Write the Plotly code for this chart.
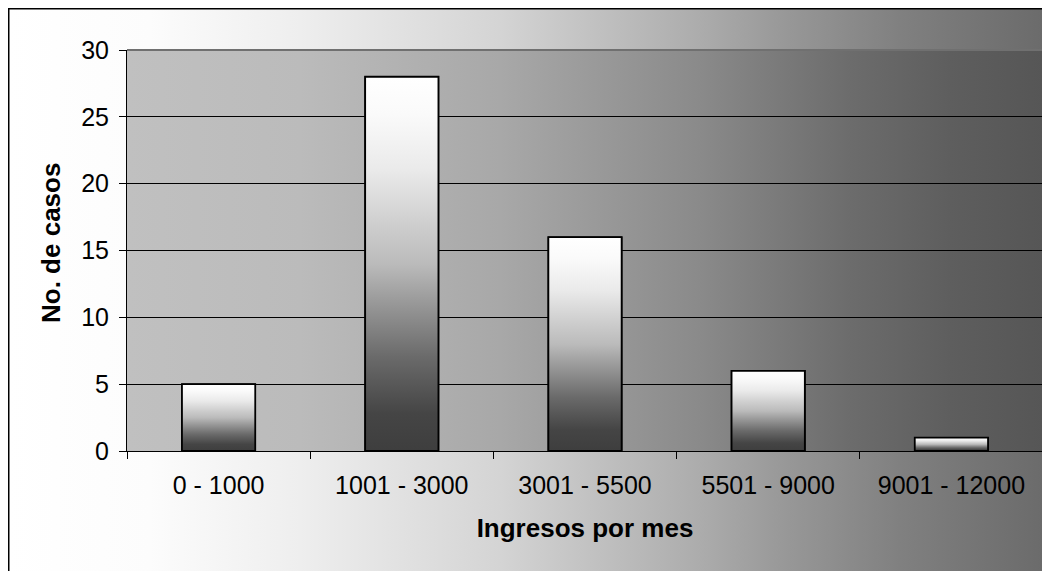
import base64
import plotly.graph_objects as go

# ---- data ----
categories = ["0 - 1000", "1001 - 3000", "3001 - 5500", "5501 - 9000", "9001 - 12000"]
casos = [5, 28, 16, 6, 1]
y_ticks = [0, 5, 10, 15, 20, 25, 30]

# page body has an 8px margin, so the figure starts at (8, 8) of the window
W, H = 1042, 563
ML, MR, MT, MB = 119, 7, 42, 120
PW, PH = W - ML - MR, H - MT - MB


def px_x(px):
    return (px - ML) / PW


def px_y(py):
    return 1 - (py - MT) / PH


def grad_svg(stops):
    st = "".join(
        f'<stop offset="{o:.4f}" stop-color="rgb({g},{g},{g})"/>' for o, g in stops
    )
    svg = (
        '<svg xmlns="http://www.w3.org/2000/svg" width="200" height="200" '
        'viewBox="0 0 200 200" preserveAspectRatio="none">'
        f'<defs><linearGradient id="g" x1="0" y1="0" x2="1" y2="0">{st}</linearGradient></defs>'
        '<rect x="0" y="0" width="200" height="200" fill="url(#g)"/></svg>'
    )
    return "data:image/svg+xml;base64," + base64.b64encode(svg.encode()).decode()


# paper gradient (window pixel x -> gray)
paper_px = [(8, 255), (150, 252), (300, 238), (380, 228), (500, 212), (600, 192),
            (700, 172), (780, 153), (900, 128), (1050, 106)]
paper_stops = [((p - 8) / (1050 - 8), g) for p, g in paper_px]
plot_px = [(127, 192), (300, 187), (500, 168), (700, 138), (850, 108), (950, 94), (1043, 86)]
plot_stops = [((p - 127) / (1043 - 127), g) for p, g in plot_px]

bar_scale = [[0, "#3e3e3e"], [0.1, "#454545"], [0.25, "#6a6a6a"], [0.4, "#9a9a9a"],
             [0.5, "#bbbbbb"], [0.6, "#cdcdcd"], [0.75, "#eaeaea"], [0.9, "#fafafa"],
             [1, "#ffffff"]]

BW = 0.4

fig = go.Figure()
fig.add_trace(go.Bar(
    x=categories, y=casos, width=BW,
    marker=dict(color="#b0b0b0", line=dict(color="black", width=1.5)),
    xaxis="x", yaxis="y", showlegend=False, hoverinfo="skip",
))
for i, v in enumerate(casos):
    fig.add_trace(go.Scatter(
        x=[i - BW / 2, i - BW / 2, i + BW / 2, i + BW / 2, i - BW / 2],
        y=[0, v, v, 0, 0],
        mode="lines", fill="toself",
        fillgradient=dict(type="vertical", colorscale=bar_scale, start=0, stop=v),
        line=dict(color="black", width=1.8),
        xaxis="x2", yaxis="y", showlegend=False, hoverinfo="skip",
    ))

font_family = "Liberation Sans, Arial, sans-serif"

fig.update_layout(
    width=W, height=H,
    margin=dict(l=ML, r=MR, t=MT, b=MB, pad=0),
    paper_bgcolor="white",
    plot_bgcolor="rgba(0,0,0,0)",
    font=dict(family=font_family, size=25, color="black"),
    showlegend=False,
    xaxis=dict(
        type="category", range=[-0.5, 4.5], tickson="boundaries",
        ticks="outside", ticklen=7, tickcolor="black", tickwidth=1,
        showline=True, linecolor="black", linewidth=1, showgrid=False,
        tickfont=dict(size=25), ticklabelstandoff=12, automargin=False, fixedrange=True,
        title=dict(text="<b>Ingresos por mes</b>", font=dict(size=26), standoff=20),
    ),
    xaxis2=dict(
        overlaying="x", anchor="y", range=[-0.5, 4.5], visible=False, fixedrange=True,
    ),
    yaxis=dict(
        range=[0, 30], tickvals=y_ticks, ticks="outside", ticklen=7,
        tickcolor="black", tickwidth=1, showline=True, linecolor="black", linewidth=1,
        showgrid=True, gridcolor="black", gridwidth=1, zeroline=False,
        tickfont=dict(size=25), ticklabelstandoff=5, automargin=False, fixedrange=True,
    ),
    annotations=[
        dict(text="<b>No. de casos</b>", textangle=-90, xref="paper", yref="paper",
             x=px_x(43), y=px_y(317), xanchor="center", yanchor="bottom",
             showarrow=False, font=dict(size=26, color="black")),
    ],
    images=[
        dict(source=grad_svg(paper_stops), xref="paper", yref="paper",
             x=px_x(0), y=px_y(0), sizex=px_x(W) - px_x(0), sizey=px_y(0) - px_y(H),
             sizing="stretch", xanchor="left", yanchor="top", layer="below"),
        dict(source=grad_svg(plot_stops), xref="paper", yref="paper",
             x=0, y=1, sizex=1, sizey=1,
             sizing="stretch", xanchor="left", yanchor="top", layer="below"),
    ],
    shapes=[
        # grey plot-area border along the top
        dict(type="line", xref="paper", yref="paper", x0=0, x1=1, y0=1, y1=1,
             line=dict(color="#707070", width=2), layer="above"),
        # outer chart border (left and top edges visible)
        dict(type="line", xref="paper", yref="paper",
             x0=px_x(0.75), x1=px_x(0.75), y0=px_y(H), y1=px_y(0),
             line=dict(color="black", width=1.5), layer="above"),
        dict(type="line", xref="paper", yref="paper",
             x0=px_x(0), x1=px_x(W), y0=px_y(0.75), y1=px_y(0.75),
             line=dict(color="black", width=1.5), layer="above"),
    ],
)

fig.write_html("out.html")
